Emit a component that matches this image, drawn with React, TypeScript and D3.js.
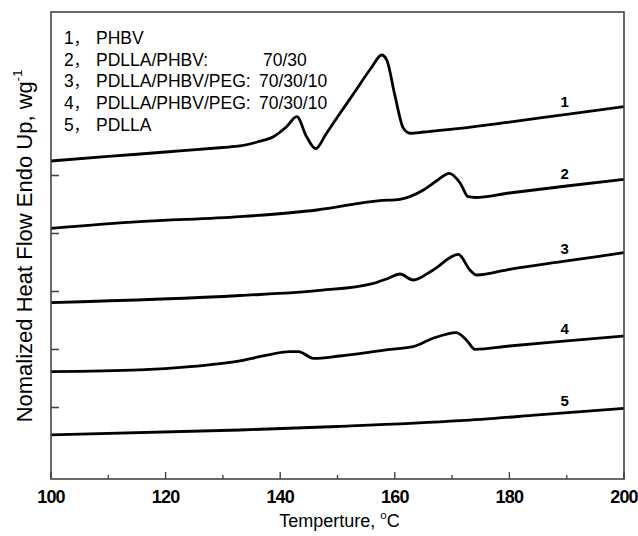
import React from 'react';
import * as d3 from 'd3';

// DSC traces, [temperature °C, normalized heat flow (offset units)]
const phbv = [
  [100, 4.25], [110, 4.328], [120, 4.405], [130, 4.483], [133, 4.509], [136, 4.578],
  [138.8, 4.669], [141.1, 4.841], [142.9, 5.014], [144.6, 4.669], [146.2, 4.462],
  [148, 4.716], [150, 5.009], [153, 5.44], [156, 5.871], [157.7, 6.078], [158.6, 5.991],
  [160, 5.388], [161.5, 4.814], [162.7, 4.728], [165, 4.75], [171.4, 4.814],
  [180, 4.922], [190, 5.055], [200, 5.186]
];
const blend7030 = [
  [100, 3.09], [115.5, 3.203], [133, 3.29], [146.4, 3.405], [157.4, 3.566], [160.9, 3.59],
  [165, 3.75], [167.5, 3.922], [169.5, 4.038], [171.4, 3.871], [172.8, 3.634], [174, 3.621],
  [180, 3.698], [190, 3.819], [200, 3.934]
];
const peg3 = [
  [100, 1.807], [133, 1.931], [146.4, 2.014], [156.3, 2.141], [159, 2.233], [160.9, 2.302],
  [163.2, 2.198], [166.7, 2.371], [171.1, 2.641], [173.1, 2.371], [174.3, 2.284],
  [180, 2.383], [190, 2.526], [200, 2.669]
];
const peg4 = [
  [100, 0.617], [115.5, 0.647], [124.3, 0.703], [133, 0.802], [137, 0.888], [141.7, 0.962],
  [143.2, 0.962], [145.8, 0.848], [150.4, 0.888], [159.2, 1.003], [163.2, 1.048],
  [166.7, 1.193], [170.7, 1.29], [172.5, 1.164], [174, 1.003], [180, 1.06], [190, 1.147],
  [200, 1.233]
];
const pdlla = [
  [100, -0.474], [133, -0.388], [150, -0.328], [171.4, -0.228], [185, -0.129], [200, -0.014]
];

const series = [phbv, blend7030, peg3, peg4, pdlla];
const curveLabels = ['1', '2', '3', '4', '5'];
const legendNames = ['PHBV', 'PDLLA/PHBV:', 'PDLLA/PHBV/PEG:', 'PDLLA/PHBV/PEG:', 'PDLLA'];
const legendRatios = ['', '70/30', '70/30/10', '70/30/10', ''];
const xTicks = d3.range(100, 201, 10);
const xLabels = [100, 120, 140, 160, 180, 200];
const yTicks = [0, 1, 2, 3, 4];

const W = 638;
const H = 536;
const m = { left: 51, right: 624, top: 12, bottom: 479 };
const font = '"Liberation Sans", Arial, sans-serif';

export default function App() {
  const x = d3.scaleLinear().domain([100, 200]).range([m.left, m.right]);
  const y = d3.scaleLinear().domain([-1.233, 6.819]).range([m.bottom, m.top]);
  const line = d3.line<number[]>()
    .x(d => x(d[0]))
    .y(d => y(d[1]))
    .curve(d3.curveMonotoneX);

  // value of a trace at a given temperature (for the number labels)
  const at = (s: number[][], t: number) =>
    d3.scaleLinear().domain(s.map(d => d[0])).range(s.map(d => d[1]))(t);

  return (
    <svg width={W} height={H} style={{ position: 'absolute', left: 0, top: 0, background: '#fff' }}
      fontFamily={font}>
      {series.map((s, i) => (
        <path key={i} d={line(s) || ''} fill="none" stroke="#000" strokeWidth={2.8}
          strokeLinejoin="round" />
      ))}
      {series.map((s, i) => (
        <text key={i} x={x(190) - 2} y={y(at(s, 190)) - 7} textAnchor="middle"
          fontSize={15} fontWeight="bold">{curveLabels[i]}</text>
      ))}

      <rect x={m.left} y={m.top} width={m.right - m.left} height={m.bottom - m.top}
        fill="none" stroke="#444" strokeWidth={1.6} />
      {xTicks.map(t => (
        <line key={t} x1={x(t)} x2={x(t)} y1={m.bottom} y2={m.bottom - (t % 20 === 0 ? 7 : 4)}
          stroke="#444" strokeWidth={1.4} />
      ))}
      {yTicks.map(t => (
        <line key={t} x1={m.left} x2={m.left + 8} y1={y(t)} y2={y(t)} stroke="#444" strokeWidth={1.6} />
      ))}
      {xLabels.map(t => (
        <text key={t} x={x(t)} y={503} textAnchor="middle" fontSize={18} fontWeight="bold"
          letterSpacing={-0.8}>{t}</text>
      ))}

      <text x={(m.left + m.right) / 2 + 2} y={527} textAnchor="middle" fontSize={18}>
        Temperture, <tspan fontSize={11.5} dy={-8}>o</tspan><tspan dy={8}>C</tspan>
      </text>
      <text transform="translate(32,246) rotate(-90)" textAnchor="middle" fontSize={22}>
        Nomalized Heat Flow Endo Up, wg<tspan fontSize={13} dy={-10}>-1</tspan>
      </text>

      {legendNames.map((n, i) => (
        <text key={i} x={64} y={44 + i * 21.7} fontSize={17.5}>
          {i + 1}<tspan fontFamily='"Noto Sans CJK SC"' fontSize={15}>，</tspan>
          <tspan x={96}>{n}</tspan>
          {legendRatios[i] && <tspan x={i === 1 ? 263 : 259}>{legendRatios[i]}</tspan>}
        </text>
      ))}
    </svg>
  );
}
